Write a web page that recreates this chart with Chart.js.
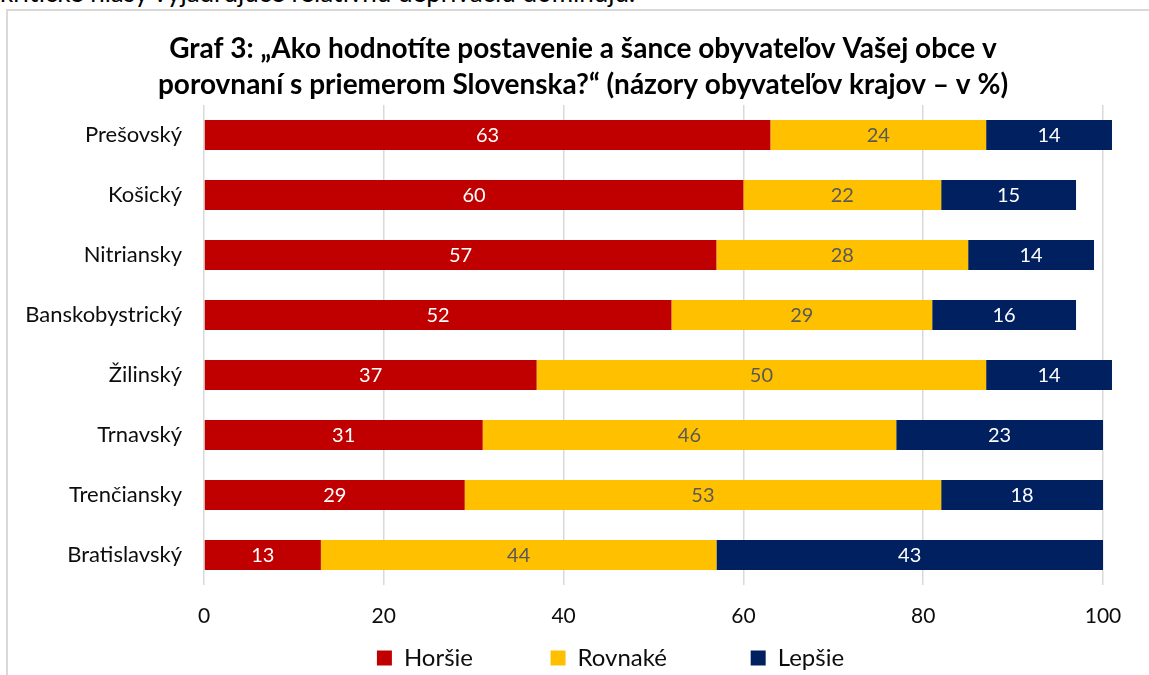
<!DOCTYPE html>
<html>
<head>
<meta charset="utf-8">
<script src="https://cdn.jsdelivr.net/npm/chart.js@4.4.1/dist/chart.umd.min.js"></script>
<style>
  html, body { margin: 0; padding: 0; background: #fff; overflow: hidden; width: 1149px; height: 675px; }
  #frame { position: absolute; left: 6px; top: 9px; width: 1300px; height: 900px; border: 2px solid #d9d9d9; box-sizing: border-box; }
  #above { position: absolute; left: 0px; top: -21px; font-family: Lato, sans-serif; font-size: 26px; line-height: 26px; color: #000; white-space: nowrap; }
  #wrap { position: absolute; left: 0; top: 0; width: 1149px; height: 675px; }
</style>
</head>
<body>
<div id="above">kritické hlasy vyjadrujúce relatívnu depriváciu dominujú.</div>
<div id="frame"></div>
<div id="wrap"><canvas id="c" width="1149" height="675"></canvas></div>
<script>
// ---- data ----
const categories = ['Prešovský', 'Košický', 'Nitriansky', 'Banskobystrický', 'Žilinský', 'Trnavský', 'Trenčiansky', 'Bratislavský'];
const seriesNames = ['Horšie', 'Rovnaké', 'Lepšie'];
const horsie  = [63, 60, 57, 52, 37, 31, 29, 13];
const rovnake = [24, 22, 28, 29, 50, 46, 53, 44];
const lepsie  = [14, 15, 14, 16, 14, 23, 18, 43];
const xTicks  = [0, 20, 40, 60, 80, 100];
const titleLines = ['Graf 3: „Ako hodnotíte postavenie a šance obyvateľov Vašej obce v', 'porovnaní s priemerom Slovenska?“ (názory obyvateľov krajov – v %)'];

// ---- styles ----
const colors = ['#C00000', '#FFC000', '#002060'];
const labelColors = ['#ffffff', '#595959', '#ffffff'];
const FONT = 'Lato';
Chart.defaults.font.family = FONT;
Chart.defaults.color = '#0d0d0d';

const legendFontSize = 24;
const mctx = document.createElement('canvas').getContext('2d');
mctx.font = legendFontSize + 'px ' + FONT;
function padTo(px) {
  const w = mctx.measureText(' ').width;
  return ' '.repeat(Math.max(0, Math.round(px / w)));
}
const legendGaps = [padTo(70), padTo(73), padTo(88)];

const valueLabels = {
  id: 'valueLabels',
  afterDatasetsDraw(chart) {
    const ctx = chart.ctx;
    ctx.save();
    ctx.font = '20px ' + FONT;
    ctx.textAlign = 'center';
    ctx.textBaseline = 'middle';
    chart.data.datasets.forEach((ds, di) => {
      const meta = chart.getDatasetMeta(di);
      meta.data.forEach((el, i) => {
        ctx.fillStyle = labelColors[di];
        ctx.fillText(String(ds.data[i]), (el.x + el.base) / 2, el.y + 1);
      });
    });
    ctx.restore();
  }
};

const seriesData = [horsie, rovnake, lepsie];
new Chart(document.getElementById('c'), {
  type: 'bar',
  data: {
    labels: categories,
    datasets: seriesNames.map((n, i) => ({
      label: n,
      data: seriesData[i],
      backgroundColor: colors[i],
      borderWidth: 0,
      categoryPercentage: 1,
      barPercentage: 0.5,
      clip: false
    }))
  },
  options: {
    indexAxis: 'y',
    responsive: false,
    animation: false,
    devicePixelRatio: 1,
    layout: { padding: { left: 17, right: 0, top: 0, bottom: -5 } },
    scales: {
      x: {
        stacked: true,
        min: 0, max: 100,
        afterBuildTicks(scale) { scale.ticks = xTicks.map(v => ({ value: v })); },
        afterFit(scale) { scale.height = 51; },
        grid: { color: '#d9d9d9', lineWidth: 1.5, drawTicks: false },
        border: { display: false },
        ticks: { font: { size: 21 }, padding: 19, color: '#0d0d0d' }
      },
      y: {
        stacked: true,
        afterFit(scale) { scale.width = 187; },
        grid: { display: false, drawTicks: false },
        border: { display: false },
        ticks: { font: { size: 22 }, padding: 22, color: '#0d0d0d' }
      },
      yRight: {
        type: 'category',
        position: 'right',
        afterFit(scale) { scale.width = 46; },
        grid: { display: false, drawTicks: false },
        border: { display: false },
        ticks: { display: false }
      }
    },
    plugins: {
      title: {
        display: true,
        text: titleLines,
        color: '#000',
        font: { size: 28, weight: 'bold', lineHeight: '36px' },
        padding: { top: 31, bottom: 2 }
      },
      legend: {
        position: 'bottom',
        fullSize: false,
        labels: {
          boxWidth: 15,
          boxHeight: 15,
          padding: 10,
          color: '#0d0d0d',
          font: { size: legendFontSize },
          generateLabels(chart) {
            return Chart.defaults.plugins.legend.labels.generateLabels(chart).map((l, i) => Object.assign(l, { text: l.text + legendGaps[i], lineWidth: 0 }));
          }
        }
      },
      tooltip: { enabled: false }
    }
  },
  plugins: [valueLabels]
});
</script>
</body>
</html>
